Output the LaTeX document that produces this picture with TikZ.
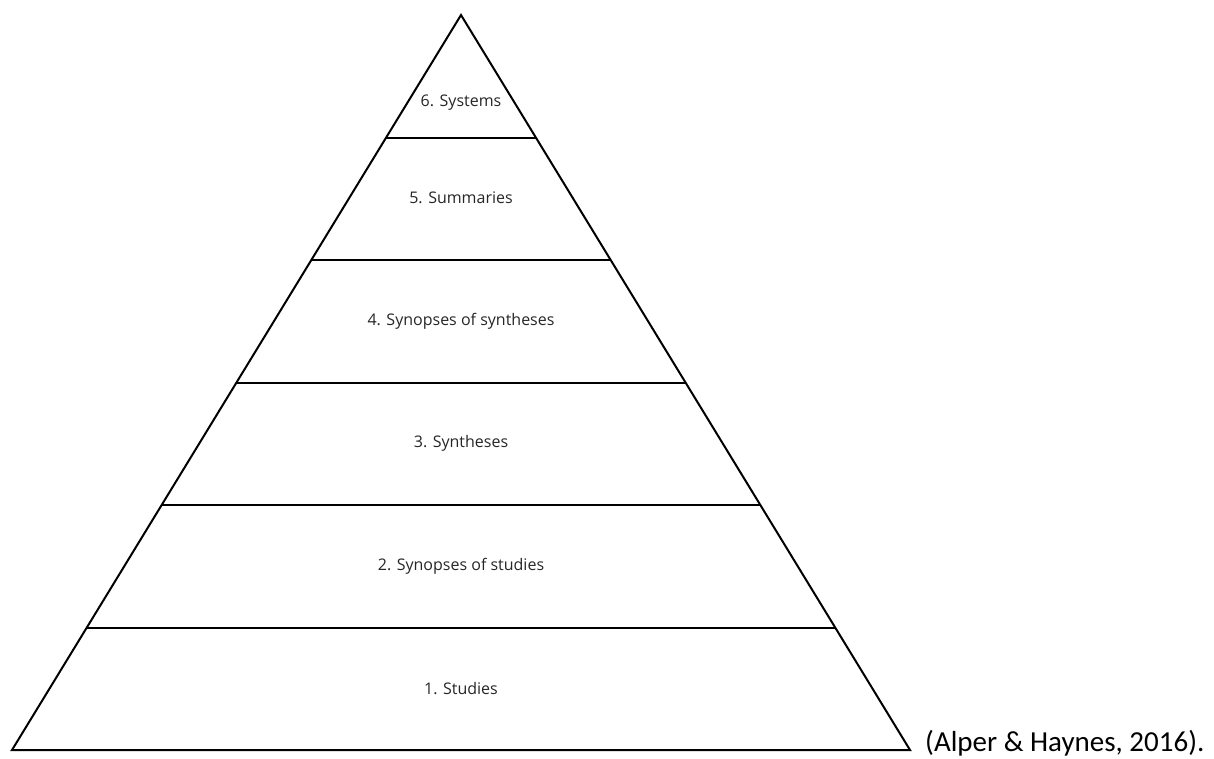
\documentclass[tikz,border=0pt]{standalone}
\usepackage{fontspec}
\setmainfont{Open Sans}
\newfontfamily\citefont{Carlito}
\begin{document}
\begin{tikzpicture}[x=1pt,y=-1pt,
  edge/.style={line width=2pt,line join=miter},
  level/.style={font=\fontsize{16}{19}\selectfont,text=black!85,inner sep=0pt},
  cite/.style={font=\citefont\fontsize{29}{34}\selectfont,anchor=base west,inner sep=0pt}]
\useasboundingbox (0,0) rectangle (1214,758);
\coordinate (apex) at (461,15);
\coordinate (bl) at (12,750);
\coordinate (br) at (910,750);
\draw[edge] (apex) -- (bl) -- (br) -- cycle;
\foreach \k in {1,...,5}{
  \pgfmathsetmacro{\yy}{15+122.5*\k}
  \pgfmathsetmacro{\hw}{449*\k/6}
  \draw[edge] (461-\hw,\yy) -- (461+\hw,\yy);
}
\node[level] (l6) at (461,103) {6. Systems};
\node[level] (l5) at (461,198) {5. Summaries};
\node[level] (l4) at (461,321) {4. Synopses of syntheses};
\node[level] (l3) at (461,443) {3. Syntheses};
\node[level] (l2) at (461,566) {2. Synopses of studies};
\node[level] (l1) at (461,689) {1. Studies};
\node[cite] (ref) at (925,751) {(Alper \& Haynes, 2016).};
\end{tikzpicture}
\end{document}
